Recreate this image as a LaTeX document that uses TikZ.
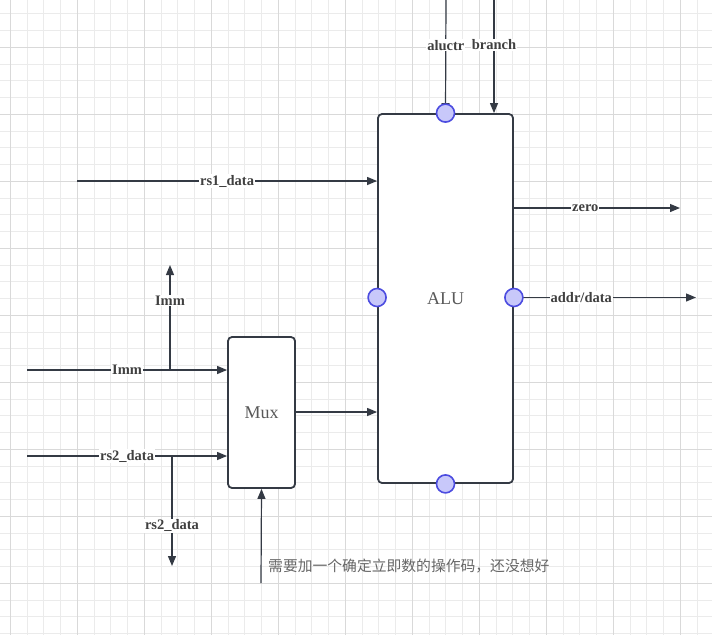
\documentclass[tikz,border=0pt]{standalone}
\usepackage{fontspec}
\setmainfont{Liberation Serif}
\newfontfamily\cjkfont{Noto Sans CJK SC}
\usetikzlibrary{arrows.meta}
\definecolor{wire}{HTML}{343A44}
\definecolor{portfill}{HTML}{C8C8FA}
\definecolor{portline}{HTML}{4C4CE0}
\definecolor{gridminor}{HTML}{EBEBEB}
\definecolor{gridmajor}{HTML}{D9D9D9}
\begin{document}
\begin{tikzpicture}[x=1pt,y=-1pt,
                    blk/.style = {shape = rectangle,
                                  rounded corners = 4pt,
                                  draw = wire,
                                  line width = 1.8pt,
                                  fill = white,
                                  text = black!65,
                                  font = \fontsize{18}{20}\selectfont},
                    port/.style = {shape = circle,
                                   draw = portline,
                                   fill = portfill,
                                   line width = 1.6pt,
                                   inner sep = 0pt,
                                   minimum size = 18pt},
                    sig/.style = {draw = wire,
                                  line width = 1.2pt,
                                  -{Triangle[length=10pt,width=8pt]}},
                    lbl/.style = {fill = white,
                                  inner sep = 1pt,
                                  text = black!75,
                                  font = \fontsize{14.5}{16}\selectfont\bfseries}]
	\useasboundingbox (0,0) rectangle (712,635);
	% grid
	\foreach \i in {-1,...,43}
		\draw[gridminor, line width=1pt] ({10.3+16.75*\i},0) -- ({10.3+16.75*\i},635);
	\foreach \i in {-3,...,36}
		\draw[gridminor, line width=1pt] (0,{47.3+16.75*\i}) -- (712,{47.3+16.75*\i});
	\foreach \i in {0,...,10}
		\draw[gridmajor, line width=1pt] ({10.3+67*\i},0) -- ({10.3+67*\i},635);
	\foreach \i in {-1,...,9}
		\draw[gridmajor, line width=1pt] (0,{47.3+67*\i}) -- (712,{47.3+67*\i});
	% blocks
	\node[blk, minimum width=135pt, minimum height=369pt] (alu) at (445.5,298.5) {ALU};
	\node[blk, minimum width=67pt, minimum height=151pt] (mux) at (261.5,412.5) {Mux};
	% free ends
	\coordinate (ctrin) at (446,0);
	\coordinate (brin) at (494,0);
	\coordinate (rs1in) at (77,181);
	\coordinate (zeroout) at (680,208);
	\coordinate (addrout) at (696,297.5);
	\coordinate (immin) at (27,370);
	\coordinate (immsplit) at (170,370);
	\coordinate (immup) at (170,265);
	\coordinate (rs2in) at (27,456);
	\coordinate (rs2split) at (172,456);
	\coordinate (rs2down) at (172,566);
	\coordinate (opin) at (261,583);
	% signals
	\draw[sig] (ctrin) -- (alu.north) node[lbl, pos=0.4] {aluctr};
	\draw[sig] (brin) -- (brin |- alu.north) node[lbl, pos=0.395] {branch};
	\draw[sig] (rs1in) -- (rs1in -| alu.west) node[lbl, pos=0.5] {rs1\_data};
	\draw[sig] (zeroout -| alu.east) -- (zeroout) node[lbl, pos=0.43] {zero};
	\draw[sig] (addrout -| alu.east) -- (addrout) node[lbl, pos=0.37] {addr/data};
	\draw[sig] (immin) -- (immin -| mux.west) node[lbl, pos=0.5] {Imm};
	\draw[sig] (immsplit) -- (immup) node[lbl, pos=0.66] {Imm};
	\draw[sig] (rs2in) -- (rs2in -| mux.west) node[lbl, pos=0.5] {rs2\_data};
	\draw[sig] (rs2split) -- (rs2down) node[lbl, pos=0.636] {rs2\_data};
	\draw[sig] (mux.east |- 412,412) -- (alu.west |- 412,412);
	\draw[sig] (opin) -- (mux.south);
	\node[anchor=west, inner sep=0pt, text=black!60,
	      font=\cjkfont\fontsize{14.8}{16}\selectfont] (note) at (268,566)
		{需要加一个确定立即数的操作码，还没想好};
	% ports
	\node[port] (pt) at (alu.north) {};
	\node[port] (pl) at (alu.west |- addrout) {};
	\node[port] (pr) at (alu.east |- addrout) {};
	\node[port] (pb) at (alu.south) {};
\end{tikzpicture}
\end{document}
